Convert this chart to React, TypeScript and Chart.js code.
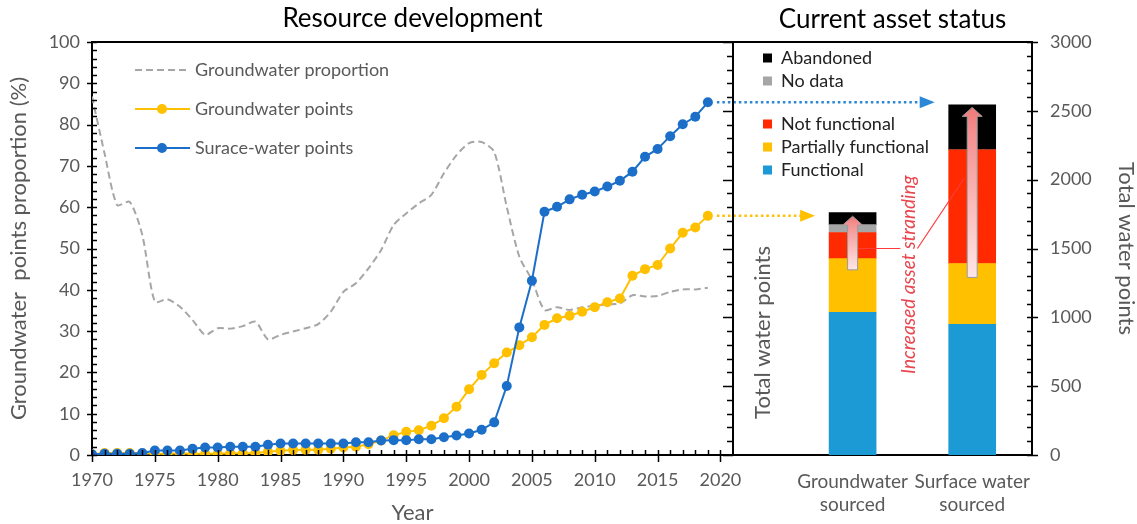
import React, { useEffect, useRef } from 'react';
import { Chart, registerables } from 'chart.js';

Chart.register(...registerables);

const FONT = 'Lato, "Open Sans", sans-serif';

// ---------- data ----------
const years = [
  1970, 1971, 1972, 1973, 1974, 1975, 1976, 1977, 1978, 1979,
  1980, 1981, 1982, 1983, 1984, 1985, 1986, 1987, 1988, 1989,
  1990, 1991, 1992, 1993, 1994, 1995, 1996, 1997, 1998, 1999,
  2000, 2001, 2002, 2003, 2004, 2005, 2006, 2007, 2008, 2009,
  2010, 2011, 2012, 2013, 2014, 2015, 2016, 2017, 2018, 2019,
];

const surfaceWaterPoints = [
  0.2, 0.3, 0.3, 0.3, 0.5, 1.1, 1.1, 1.1, 1.5, 1.8,
  1.8, 2.0, 2.0, 2.0, 2.5, 2.8, 2.8, 2.8, 2.8, 2.8,
  2.8, 3.1, 3.1, 3.5, 3.6, 3.6, 3.8, 3.8, 4.3, 4.7,
  5.2, 6.1, 7.9, 16.7, 30.9, 42.2, 58.9, 60.1, 61.9, 63.0,
  63.8, 65.0, 66.4, 68.6, 72.2, 74.1, 77.2, 80.1, 81.9, 85.4,
];

const groundwaterPoints = [
  0.2, 0.5, 0.5, 0.5, 0.4, 0.3, 0.3, 0.4, 0.3, 0.3,
  0.3, 0.4, 0.4, 0.5, 0.8, 1.0, 1.2, 1.3, 1.3, 1.5,
  1.8, 2.0, 2.6, 3.5, 4.8, 5.6, 6.0, 7.1, 8.9, 11.7,
  15.9, 19.4, 22.2, 24.8, 26.6, 28.5, 31.5, 33.1, 33.7, 34.7,
  35.8, 37.0, 37.9, 43.4, 45.0, 46.0, 50.0, 53.8, 55.1, 57.9,
];

const groundwaterProportion = [
  86.8, 73.0, 60.5, 61.3, 53.3, 37.1, 37.7, 35.9, 32.7, 29.1,
  30.7, 30.6, 31.2, 32.3, 28.0, 29.1, 29.9, 30.7, 31.7, 34.7,
  39.5, 41.6, 45.2, 49.6, 55.7, 58.5, 60.9, 63.0, 68.2, 72.6,
  75.5, 75.8, 73.4, 60.1, 48.0, 42.4, 35.1, 35.8, 35.1, 35.8,
  36.1, 36.5, 36.7, 38.7, 38.4, 38.5, 39.5, 40.1, 40.1, 40.5,
];

const yearTicks = [1970, 1975, 1980, 1985, 1990, 1995, 2000, 2005, 2010, 2015, 2020];
const pctTicks = [0, 10, 20, 30, 40, 50, 60, 70, 80, 90, 100];
const countTicks = [0, 500, 1000, 1500, 2000, 2500, 3000];

const sourceCategories = [['Groundwater', 'sourced'], ['Surface water', 'sourced']];
const sourcePositions = [1, 2];
const functional = [1036, 949];
const partiallyFunctional = [391, 442];
const notFunctional = [189, 826];
const noData = [58, 0];
const abandoned = [87, 326];
const strandingFrom = [1345, 1290];
const strandingTo = [1735, 2525];

// ---------- styles ----------
const BLUE = '#1C6FC8';
const BLUE_DOT = '#2A88D6';
const ORANGE = '#FFC000';
const GRAY = '#A6A6A6';
const C_FUNC = '#1B9AD6';
const C_PART = '#FFC000';
const C_NOTF = '#FF2A00';
const C_NODATA = '#A6A6A6';
const C_ABAND = '#000000';
const TEXT = '#595959';
const BAR_W = 47;

const NO_GRID = { display: false, drawTicks: false, tickLength: 0, drawOnChartArea: false };

const overlay = {
  id: 'overlay',
  afterDatasetsDraw(chart: any) {
    const { ctx, scales } = chart;
    const xL = scales.xLine, xB = scales.xBar, yP = scales.yPct, yC = scales.yCount;
    ctx.save();

    // stranding arrows inside bars
    sourcePositions.forEach((bx, i) => {
      const cx = xB.getPixelForValue(bx);
      const yTop = yC.getPixelForValue(strandingTo[i]);
      const yBot = yC.getPixelForValue(strandingFrom[i]);
      const sh = 5, hh = 10, hl = 9;
      const g = ctx.createLinearGradient(0, yTop, 0, yBot);
      g.addColorStop(0, '#F07878');
      g.addColorStop(0.15, '#F49090');
      g.addColorStop(1, '#FFE6E6');
      ctx.beginPath();
      ctx.moveTo(cx, yTop);
      ctx.lineTo(cx + hh, yTop + hl);
      ctx.lineTo(cx + sh, yTop + hl);
      ctx.lineTo(cx + sh, yBot);
      ctx.lineTo(cx - sh, yBot);
      ctx.lineTo(cx - sh, yTop + hl);
      ctx.lineTo(cx - hh, yTop + hl);
      ctx.closePath();
      ctx.fillStyle = g;
      ctx.fill();
      ctx.strokeStyle = '#9A9A9A';
      ctx.lineWidth = 1;
      ctx.stroke();
    });

    // red connectors + text
    const gwX = xB.getPixelForValue(sourcePositions[0]);
    const swX = xB.getPixelForValue(sourcePositions[1]);
    const textX = (gwX + swX) / 2 - 4;
    const lineY = yC.getPixelForValue(1500);
    ctx.strokeStyle = '#FF3B3B';
    ctx.lineWidth = 1.2;
    ctx.beginPath();
    ctx.moveTo(gwX + 6, lineY);
    ctx.lineTo(textX - 8, lineY);
    ctx.moveTo(textX + 9, lineY);
    ctx.lineTo(swX - 8, yC.getPixelForValue(2010));
    ctx.stroke();

    ctx.save();
    ctx.translate(textX, yC.getPixelForValue(1310));
    ctx.rotate(-Math.PI / 2);
    ctx.font = `italic 19px ${FONT}`;
    ctx.fillStyle = '#E8454D';
    ctx.textAlign = 'center';
    ctx.textBaseline = 'middle';
    ctx.fillText('Increased asset stranding', 0, 0);
    ctx.restore();

    // dotted arrows from last points to bars
    const last = years.length - 1;
    const arrows = [
      { v: surfaceWaterPoints[last], bar: 1, color: BLUE_DOT },
      { v: groundwaterPoints[last], bar: 0, color: ORANGE },
    ];
    arrows.forEach((ar) => {
      const x0 = xL.getPixelForValue(years[last]) + 9;
      const y = yP.getPixelForValue(ar.v);
      const tip = xB.getPixelForValue(sourcePositions[ar.bar]) - BAR_W / 2 - 14;
      ctx.save();
      ctx.strokeStyle = ar.color;
      ctx.lineWidth = 2.5;
      ctx.setLineDash([2.5, 3]);
      ctx.beginPath();
      ctx.moveTo(x0, y);
      ctx.lineTo(tip - 14, y);
      ctx.stroke();
      ctx.setLineDash([]);
      ctx.fillStyle = ar.color;
      ctx.beginPath();
      ctx.moveTo(tip, y);
      ctx.lineTo(tip - 15, y - 6);
      ctx.lineTo(tip - 15, y + 6);
      ctx.closePath();
      ctx.fill();
      ctx.restore();
    });
    ctx.restore();
  },
  afterDraw(chart: any) {
    const { ctx, chartArea: a, scales } = chart;
    const xL = scales.xLine, yP = scales.yPct, yC = scales.yCount;
    const mid = xL.right;
    ctx.save();
    ctx.strokeStyle = '#000';
    ctx.lineWidth = 2;
    // top border and middle axis
    ctx.beginPath();
    ctx.moveTo(a.left - 1, a.top);
    ctx.lineTo(a.right + 1, a.top);
    ctx.moveTo(mid, a.top);
    ctx.lineTo(mid, a.bottom);
    ctx.stroke();

    ctx.lineWidth = 1.5;
    ctx.beginPath();
    // left axis ticks
    for (let v = 0; v <= 100; v += 2) {
      const y = Math.round(yP.getPixelForValue(v)) + 0.5;
      const major = v % 10 === 0;
      ctx.moveTo(major ? a.left - 5 : a.left, y);
      ctx.lineTo(a.left + 5, y);
    }
    // bottom year ticks
    for (let yr = 1970; yr <= 2020; yr++) {
      const x = Math.round(xL.getPixelForValue(yr)) + 0.5;
      const major = yr % 5 === 0;
      ctx.moveTo(x, a.bottom - 5);
      ctx.lineTo(x, major ? a.bottom + 7 : a.bottom);
    }
    // middle and right axis ticks
    for (let v = 0; v <= 3000; v += 100) {
      const y = Math.round(yC.getPixelForValue(v)) + 0.5;
      const major = v % 500 === 0;
      ctx.moveTo(mid - (major ? 10 : 6), y);
      ctx.lineTo(mid, y);
      ctx.moveTo(a.right - 5, y);
      ctx.lineTo(major ? a.right + 6 : a.right, y);
    }
    ctx.stroke();

    // panel titles
    ctx.fillStyle = '#000';
    ctx.font = `26px ${FONT}`;
    ctx.textAlign = 'center';
    ctx.textBaseline = 'middle';
    ctx.fillText('Resource development', (a.left + mid) / 2, 19);
    ctx.fillText('Current asset status', (mid + a.right) / 2 + 10, 20);

    // inner axis label for the bar panel
    ctx.save();
    ctx.translate(mid + 30, yC.getPixelForValue(890));
    ctx.rotate(-Math.PI / 2);
    ctx.font = `22px ${FONT}`;
    ctx.fillStyle = TEXT;
    ctx.fillText('Total water points', 0, 0);
    ctx.restore();

    // left legend
    ctx.font = `18px ${FONT}`;
    ctx.textAlign = 'left';
    const lx = a.left + 43;
    const items = [
      { t: 'Groundwater proportion', kind: 'dash', c: GRAY },
      { t: 'Groundwater points', kind: 'pt', c: ORANGE },
      { t: 'Surace-water points', kind: 'pt', c: BLUE },
    ];
    items.forEach((it, i) => {
      const y = a.top + 28 + i * 39;
      ctx.save();
      ctx.strokeStyle = it.c;
      ctx.lineWidth = 2;
      if (it.kind === 'dash') ctx.setLineDash([7, 4]);
      ctx.beginPath();
      ctx.moveTo(lx, y);
      ctx.lineTo(lx + 55, y);
      ctx.stroke();
      ctx.restore();
      if (it.kind === 'pt') {
        ctx.fillStyle = it.c;
        ctx.beginPath();
        ctx.arc(lx + 27, y, 5, 0, Math.PI * 2);
        ctx.fill();
      }
      ctx.fillStyle = TEXT;
      ctx.fillText(it.t, lx + 60, y);
    });

    // right legend
    const rx = mid + 30;
    const ritems = [
      { t: 'Abandoned', c: C_ABAND, dy: 16 },
      { t: 'No data', c: C_NODATA, dy: 39 },
      { t: 'Not functional', c: C_NOTF, dy: 82 },
      { t: 'Partially functional', c: C_PART, dy: 105 },
      { t: 'Functional', c: C_FUNC, dy: 128 },
    ];
    ritems.forEach((it) => {
      const y = a.top + it.dy;
      ctx.fillStyle = it.c;
      ctx.fillRect(rx, y - 4.5, 9, 9);
      ctx.fillStyle = '#222';
      ctx.fillText(it.t, rx + 18, y);
    });
    ctx.restore();
  },
};

function buildConfig(): any {
  const line = (label: string, values: number[], color: string, order: number) => ({
    type: 'line',
    label,
    data: years.map((x, i) => ({ x, y: values[i] })),
    xAxisID: 'xLine',
    yAxisID: 'yPct',
    borderColor: color,
    backgroundColor: color,
    borderWidth: 2,
    pointRadius: 5,
    pointBorderWidth: 0,
    pointBackgroundColor: color,
    order,
  });
  const bar = (label: string, values: number[], color: string, order: number) => ({
    type: 'bar',
    label,
    data: sourcePositions.map((x, i) => ({ x, y: values[i] })),
    xAxisID: 'xBar',
    yAxisID: 'yCount',
    backgroundColor: color,
    borderWidth: 0,
    barThickness: BAR_W,
    grouped: false,
    stack: 'status',
    order,
  });
  return {
    type: 'bar',
    data: {
      datasets: [
        line('Surace-water points', surfaceWaterPoints, BLUE, 0),
        line('Groundwater points', groundwaterPoints, ORANGE, 1),
        {
          type: 'line',
          label: 'Groundwater proportion',
          data: years.map((x, i) => ({ x, y: groundwaterProportion[i] })),
          xAxisID: 'xLine',
          yAxisID: 'yPct',
          borderColor: GRAY,
          borderWidth: 2,
          borderDash: [7, 4],
          pointRadius: 0,
          tension: 0.25,
          order: 2,
        },
        bar('Functional', functional, C_FUNC, 10),
        bar('Partially functional', partiallyFunctional, C_PART, 11),
        bar('Not functional', notFunctional, C_NOTF, 12),
        bar('No data', noData, C_NODATA, 13),
        bar('Abandoned', abandoned, C_ABAND, 14),
      ],
    },
    options: {
      animation: false,
      responsive: false,
      devicePixelRatio: 1,
      layout: { padding: { top: 42, left: 0, right: 0, bottom: 0 } },
      plugins: { legend: { display: false }, tooltip: { enabled: false }, title: { display: false } },
      scales: {
        xLine: {
          type: 'linear',
          position: 'bottom',
          stack: 'bottomStack',
          stackWeight: 641,
          offset: false,
          min: 1970,
          max: 2021,
          afterBuildTicks: (s: any) => { s.ticks = yearTicks.map((v) => ({ value: v })); },
          afterFit: (s: any) => { s.height = 69; },
          grid: NO_GRID,
          border: { display: true, color: '#000', width: 2 },
          ticks: { font: { family: FONT, size: 18 }, color: TEXT, padding: 14, maxRotation: 0, autoSkip: false, callback: (v: any) => String(v) },
          title: { display: true, text: 'Year', font: { family: FONT, size: 22, lineHeight: 1 }, color: TEXT, padding: { top: 0, bottom: 0 } },
        },
        xBar: {
          type: 'linear',
          position: 'bottom',
          stack: 'bottomStack',
          stackWeight: 299,
          stacked: true,
          offset: false,
          min: 0,
          max: 2.5,
          afterBuildTicks: (s: any) => { s.ticks = sourcePositions.map((v) => ({ value: v })); },
          afterFit: (s: any) => { s.height = 69; },
          grid: NO_GRID,
          border: { display: true, color: '#000', width: 2 },
          ticks: {
            font: { family: FONT, size: 19, lineHeight: 1.21 },
            color: TEXT,
            padding: 15,
            maxRotation: 0,
            autoSkip: false,
            callback: (v: any) => sourceCategories[sourcePositions.indexOf(v)] || '',
          },
        },
        yPct: {
          type: 'linear',
          position: 'left',
          min: 0,
          max: 100,
          afterBuildTicks: (s: any) => { s.ticks = pctTicks.map((v) => ({ value: v })); },
          afterFit: (s: any) => { s.width = 92; },
          grid: NO_GRID,
          border: { display: true, color: '#000', width: 2 },
          ticks: { font: { family: FONT, size: 18 }, color: TEXT, padding: 12, callback: (v: any) => String(v) },
          title: { display: true, text: 'Groundwater  points proportion (%)', font: { family: FONT, size: 22, lineHeight: 1 }, color: TEXT, padding: { top: 8, bottom: 0 } },
        },
        yCount: {
          type: 'linear',
          position: 'right',
          min: 0,
          max: 3000,
          stacked: true,
          afterBuildTicks: (s: any) => { s.ticks = countTicks.map((v) => ({ value: v })); },
          afterFit: (s: any) => { s.width = 105; },
          grid: NO_GRID,
          border: { display: true, color: '#000', width: 2 },
          ticks: { font: { family: FONT, size: 18 }, color: TEXT, padding: 18, callback: (v: any) => String(v) },
          title: { display: true, text: 'Total water points', font: { family: FONT, size: 22, lineHeight: 1 }, color: TEXT, padding: { top: 0, bottom: 0 } },
        },
      },
    },
    plugins: [overlay],
  };
}

export default function App() {
  const ref = useRef<HTMLCanvasElement>(null);
  useEffect(() => {
    document.body.style.margin = '0';
    const chart = new Chart(ref.current as HTMLCanvasElement, buildConfig());
    return () => chart.destroy();
  }, []);
  return (
    <div style={{ width: 1137, height: 524, background: '#fff' }}>
      <canvas ref={ref} width={1137} height={524} style={{ display: 'block', width: 1137, height: 524 }} />
    </div>
  );
}
